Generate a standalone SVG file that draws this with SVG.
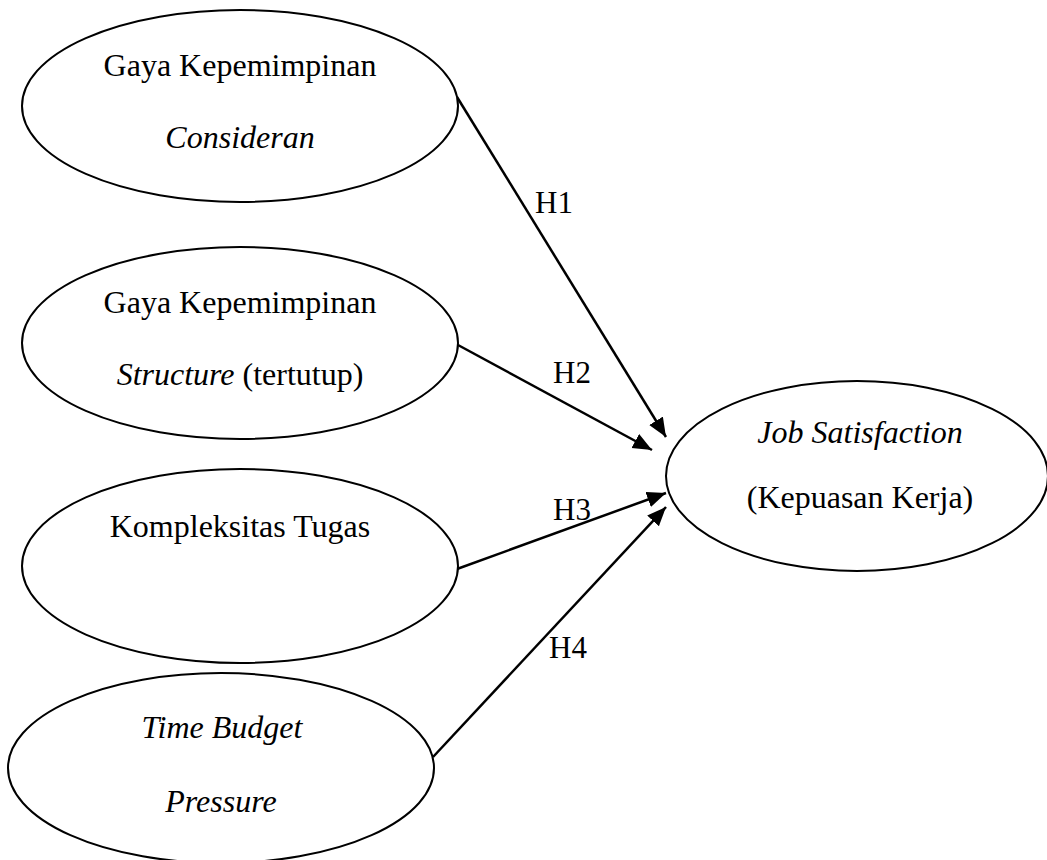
<svg xmlns="http://www.w3.org/2000/svg" width="1047" height="860" viewBox="0 0 1047 860">
<style>
.node ellipse{fill:#fff;stroke:#000;stroke-width:2}
text{font-family:"Liberation Serif","Times New Roman",serif;fill:#000}
.t{font-size:32px;text-anchor:middle}
.i{font-style:italic}
.lbl{font-size:31px}
.edge{stroke:#000;stroke-width:2.5;fill:none;marker-end:url(#ah)}
</style>
<defs>
<marker id="ah" markerUnits="userSpaceOnUse" markerWidth="22" markerHeight="18" refX="19" refY="8" orient="auto">
<path d="M0,0 L19,8 L0,16 z" fill="#000"/>
</marker>
</defs>
<rect width="1047" height="860" fill="#fff"/>
<g id="connectors">
<line class="edge" x1="457" y1="97" x2="666" y2="437"/>
<line class="edge" x1="458" y1="345" x2="652" y2="450"/>
<line class="edge" x1="457" y1="569" x2="666" y2="493"/>
<line class="edge" x1="433" y1="757" x2="666" y2="507"/>
<text class="lbl" x="535" y="213">H1</text>
<text class="lbl" x="553" y="383">H2</text>
<text class="lbl" x="553" y="520">H3</text>
<text class="lbl" x="549" y="658">H4</text>
</g>
<g id="n1" class="node">
<ellipse cx="240" cy="106" rx="218" ry="96"/>
<text class="t" x="240" y="76">Gaya Kepemimpinan</text>
<text class="t i" x="240" y="148">Consideran</text>
</g>
<g id="n2" class="node">
<ellipse cx="240" cy="343" rx="218" ry="96"/>
<text class="t" x="240" y="313">Gaya Kepemimpinan</text>
<text class="t" x="240" y="385"><tspan class="i">Structure</tspan> (tertutup)</text>
</g>
<g id="n3" class="node">
<ellipse cx="240" cy="566" rx="218" ry="97"/>
<text class="t" x="240" y="537">Kompleksitas Tugas</text>
</g>
<g id="n4" class="node">
<ellipse cx="221" cy="768" rx="213" ry="95"/>
<text class="t i" x="222" y="738">Time Budget</text>
<text class="t i" x="221" y="812">Pressure</text>
</g>
<g id="n5" class="node">
<ellipse cx="857" cy="476" rx="191" ry="95"/>
<text class="t i" x="860" y="443">Job Satisfaction</text>
<text class="t" x="860" y="508">(Kepuasan Kerja)</text>
</g>
</svg>
